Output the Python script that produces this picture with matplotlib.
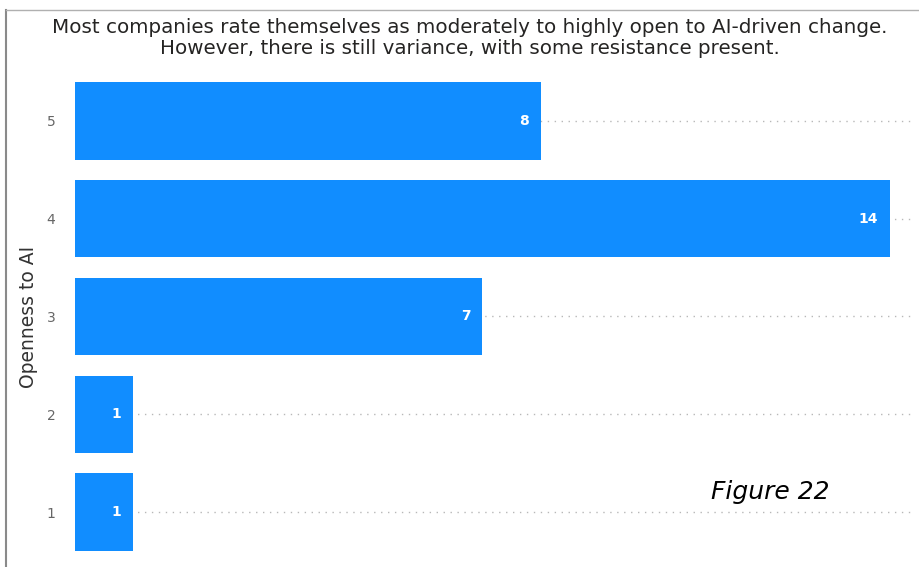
import matplotlib
matplotlib.use("Agg")
import matplotlib.pyplot as plt
from matplotlib.lines import Line2D

# data
ratings = [1, 2, 3, 4, 5]
counts = [1, 1, 7, 14, 8]
title = ("Most companies rate themselves as moderately to highly open to AI-driven change.\n"
         "However, there is still variance, with some resistance present.")
ylabel = "Openness to AI"
note = "Figure 22"

fig = plt.figure(figsize=(9.19, 5.67), dpi=100)
ax = fig.add_axes([75 / 919, 6 / 567, 840 / 919, 489 / 567])

ax.barh(ratings, counts, height=0.79, color="#118DFF", zorder=3)
for r, c in zip(ratings, counts):
    ax.text(c - 0.2, r, str(c), color="white", fontsize=10, fontweight="bold",
            ha="right", va="center", zorder=4)

ax.set_xlim(0, 840 / 58.2)
ax.set_ylim(0.5, 5.5)
ax.set_yticks(ratings)
ax.set_yticklabels([str(r) for r in ratings], color="#666666", fontsize=10)
ax.tick_params(axis="y", length=0, pad=14)
ax.set_xticks([])
ax.grid(axis="y", linestyle=(0, (1, 4)), color="#b8b8b8", linewidth=1, zorder=0)
for s in ax.spines.values():
    s.set_visible(False)
ax.set_ylabel(ylabel, fontsize=13.5, color="#333333", labelpad=6)

fig.text(470 / 919, 1 - 38 / 567, title, ha="center", va="center", fontsize=14.3,
         color="#252423", linespacing=1.1)
fig.text(770 / 919, 1 - 492 / 567, note, ha="center", va="center", fontsize=18,
         style="italic", color="black")

# frame lines of the screenshot
fig.add_artist(Line2D([6 / 919, 6 / 919], [0, 1 - 10 / 567], color="#8a8a8a", lw=1.5,
                      transform=fig.transFigure))
fig.add_artist(Line2D([6 / 919, 1], [1 - 10 / 567, 1 - 10 / 567], color="#b0b0b0", lw=1,
                      transform=fig.transFigure))

fig.savefig("out.png", dpi=100)
